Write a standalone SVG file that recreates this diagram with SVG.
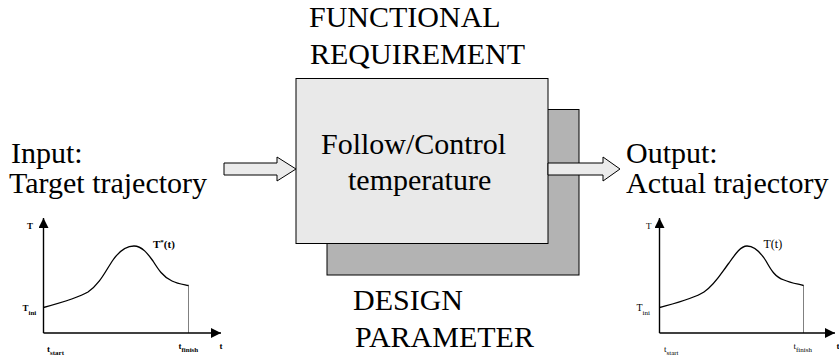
<svg xmlns="http://www.w3.org/2000/svg" width="839" height="360" viewBox="0 0 839 360">
  <defs>
    <!-- shared filled arrowhead for the plot axes -->
    <marker id="axhead" viewBox="0 0 10 10" refX="10" refY="5" markerWidth="10" markerHeight="10" markerUnits="userSpaceOnUse" orient="auto">
      <path d="M0,0 L10,5 L0,10 Z" fill="#000"/>
    </marker>
  </defs>

  <rect width="839" height="360" fill="#fff"/>

  <!-- design parameter (back) block -->
  <g id="design-parameter">
    <rect x="327" y="109.5" width="252" height="165.5" fill="#b3b3b3" stroke="#000" stroke-width="1"/>
    <text font-family="Liberation Serif" font-size="30" x="353" y="310">DESIGN</text>
    <text font-family="Liberation Serif" font-size="30" x="355" y="346.5">PARAMETER</text>
  </g>

  <!-- functional requirement (front) block -->
  <g id="functional-requirement">
    <rect x="296" y="78.5" width="252" height="165" fill="#e9e9e9" stroke="#000" stroke-width="1"/>
    <text font-family="Liberation Serif" font-size="30" x="309" y="27">FUNCTIONAL</text>
    <text font-family="Liberation Serif" font-size="30" x="310" y="63.5">REQUIREMENT</text>
    <text font-family="Liberation Serif" font-size="30" x="321" y="154">Follow/Control</text>
    <text font-family="Liberation Serif" font-size="30" x="348" y="190">temperature</text>
  </g>

  <!-- flow arrows -->
  <g id="connectors" fill="#ebebeb" stroke="#000" stroke-width="1">
    <polygon points="224,163 277,163 277,157 296,169 277,181 277,175 224,175"/>
    <polygon points="548,163 603,163 603,157 620,169 603,181 603,175 548,175"/>
  </g>

  <!-- input: target trajectory -->
  <g id="input">
    <text font-family="Liberation Serif" font-size="30" x="11" y="163">Input:</text>
    <text font-family="Liberation Serif" font-size="30" x="9" y="193">Target trajectory</text>
    <g fill="none" stroke="#000">
      <line x1="43.5" y1="333" x2="43.5" y2="218" stroke-width="1.4" marker-end="url(#axhead)"/>
      <line x1="43.5" y1="333" x2="221" y2="333" stroke-width="1.4" marker-end="url(#axhead)"/>
      <path stroke-width="1.3" d="M43.5,307.5 C60,303 78,298 88,292 C100,284 106,270 113,260 C120,250 127,246 134,246 C142,246 148,254 153,261 C158,269 163,277 172,281 C178,284 184,284.5 188.5,285.5"/>
      <line x1="188.5" y1="285.5" x2="188.5" y2="333" stroke-width="1" stroke-dasharray="1 1"/>
    </g>
    <text font-family="Liberation Serif" font-weight="bold" x="27" y="229" font-size="9">T</text>
    <text font-family="Liberation Serif" font-weight="bold" x="153" y="247.5" font-size="11">T<tspan font-size="7" dy="-4">*</tspan><tspan dy="4">(t)</tspan></text>
    <text font-family="Liberation Serif" font-weight="bold" x="22.5" y="311" font-size="9">T<tspan font-size="7" dy="4">ini</tspan></text>
    <text font-family="Liberation Serif" font-weight="bold" x="47" y="352" font-size="9">t<tspan font-size="7" dy="3">start</tspan></text>
    <text font-family="Liberation Serif" font-weight="bold" x="178.5" y="349" font-size="9">t<tspan font-size="7" dy="3">finish</tspan></text>
    <text font-family="Liberation Serif" font-weight="bold" x="219.5" y="349" font-size="9">t</text>
  </g>

  <!-- output: actual trajectory -->
  <g id="output">
    <text font-family="Liberation Serif" font-size="30" x="626" y="163">Output:</text>
    <text font-family="Liberation Serif" font-size="30" x="626" y="193">Actual trajectory</text>
    <g fill="none" stroke="#000">
      <line x1="659.5" y1="333" x2="659.5" y2="218" stroke-width="1.4" marker-end="url(#axhead)"/>
      <line x1="659.5" y1="333" x2="835" y2="333" stroke-width="1.4" marker-end="url(#axhead)"/>
      <path stroke-width="1.3" d="M659.5,307.5 C676,303 693,299 704,292 C715,285 722,272 729,263 C736,253 741,246 747,246 C755,246 761,253 766,261 C771,270 775,277 784,280 C791,283 798,284 803.5,285.5"/>
      <line x1="803.5" y1="285.5" x2="803.5" y2="333" stroke-width="1" stroke-dasharray="1 1"/>
    </g>
    <text font-family="Liberation Serif" x="646" y="229" font-size="9">T</text>
    <text font-family="Liberation Serif" x="763.5" y="247.5" font-size="12">T(t)</text>
    <text font-family="Liberation Serif" x="636.5" y="310.5" font-size="10">T<tspan font-size="7" dy="4">ini</tspan></text>
    <text font-family="Liberation Serif" x="664" y="352" font-size="9">t<tspan font-size="7" dy="3">start</tspan></text>
    <text font-family="Liberation Serif" x="793.5" y="349" font-size="9">t<tspan font-size="7" dy="3">finish</tspan></text>
    <text font-family="Liberation Serif" x="836.5" y="349" font-size="9" font-weight="bold">t</text>
  </g>
</svg>
